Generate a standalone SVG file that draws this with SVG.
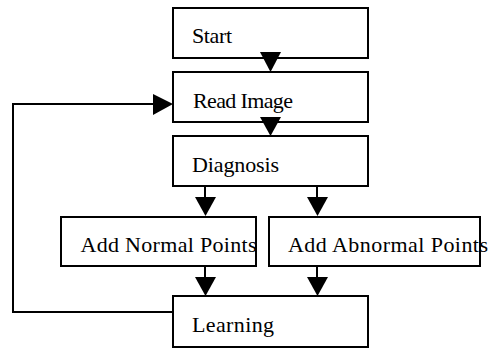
<svg xmlns="http://www.w3.org/2000/svg" width="498" height="351" viewBox="0 0 498 351">
<style>
.box{fill:#fff;stroke:#000;stroke-width:2}
.lbl{font-family:"Liberation Serif","Times New Roman",serif;font-size:22px;fill:#000}
.ln{fill:none;stroke:#000;stroke-width:2}
.ah{fill:#000;stroke:none}
</style>
<rect width="498" height="351" fill="#fff"/>
<g id="connectors">
<path class="ln" d="M173 312 H13 V104 H155"/>
<polygon class="ah" points="153,94 173,104 153,115"/>
<path class="ln" d="M205 184 V198"/>
<polygon class="ah" points="195,197 216,197 205.5,216"/>
<path class="ln" d="M317 184 V198"/>
<polygon class="ah" points="307,197 328,197 317.5,216"/>
<path class="ln" d="M205 264 V278"/>
<polygon class="ah" points="195,277 216,277 205.5,296"/>
<path class="ln" d="M317 264 V278"/>
<polygon class="ah" points="307,277 328,277 317.5,296"/>
</g>
<g id="start"><rect class="box" x="173" y="8" width="195" height="50"/><text class="lbl" x="192" y="43" textLength="40" lengthAdjust="spacing">Start</text></g>
<g id="read"><rect class="box" x="173" y="72" width="195" height="50"/><text class="lbl" x="193" y="108" textLength="100" lengthAdjust="spacing">Read Image</text></g>
<g id="diagnosis"><rect class="box" x="173" y="136" width="195" height="50"/><text class="lbl" x="192" y="172" textLength="87" lengthAdjust="spacing">Diagnosis</text></g>
<g id="normal"><rect class="box" x="61" y="217" width="195" height="49"/><text class="lbl" x="80.5" y="252" textLength="176" lengthAdjust="spacing">Add Normal Points</text></g>
<g id="abnormal"><rect class="box" x="269" y="217" width="211" height="49"/><text class="lbl" x="288" y="252" textLength="200" lengthAdjust="spacing">Add Abnormal Points</text></g>
<g id="learning"><rect class="box" x="173" y="296" width="195" height="51"/><text class="lbl" x="192" y="332" textLength="82" lengthAdjust="spacing">Learning</text></g>
<g id="arrows-top">
<polygon class="ah" points="260,52 281,52 270.5,72"/>
<polygon class="ah" points="260,117 281,117 270.5,136"/>
</g>
</svg>
